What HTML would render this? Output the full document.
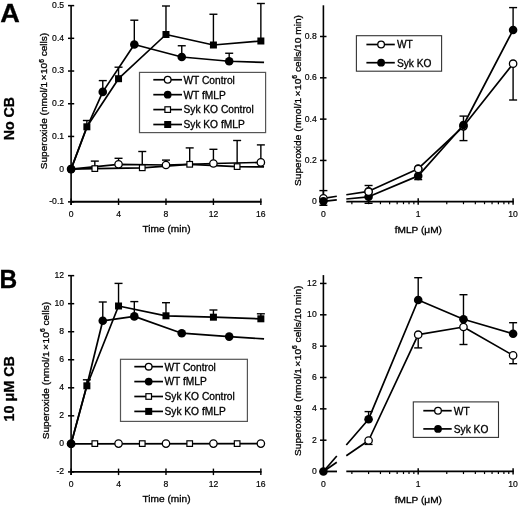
<!DOCTYPE html>
<html><head><meta charset="utf-8"><style>
html,body{margin:0;padding:0;background:#fff;}
svg{display:block;will-change:transform;}
text{font-family:"Liberation Sans",sans-serif;fill:#000;stroke:#000;stroke-width:0.3px;}
.t{stroke-width:0.2px;}
</style></head><body>
<svg width="520" height="506" viewBox="0 0 520 506">
<rect width="520" height="506" fill="#fff"/>
<line x1="71.10" y1="5.00" x2="71.10" y2="205.00" stroke="#000" stroke-width="1.6"/>
<line x1="68.00" y1="5.61" x2="74.20" y2="5.61" stroke="#000" stroke-width="1.5"/>
<text transform="translate(64.10,8.01) scale(0.88,1)" font-size="9.8" text-anchor="end" font-weight="normal"  class="t">0.5</text>
<line x1="68.00" y1="38.32" x2="74.20" y2="38.32" stroke="#000" stroke-width="1.5"/>
<text transform="translate(64.10,40.72) scale(0.88,1)" font-size="9.8" text-anchor="end" font-weight="normal"  class="t">0.4</text>
<line x1="68.00" y1="71.03" x2="74.20" y2="71.03" stroke="#000" stroke-width="1.5"/>
<text transform="translate(64.10,73.43) scale(0.88,1)" font-size="9.8" text-anchor="end" font-weight="normal"  class="t">0.3</text>
<line x1="68.00" y1="103.74" x2="74.20" y2="103.74" stroke="#000" stroke-width="1.5"/>
<text transform="translate(64.10,106.14) scale(0.88,1)" font-size="9.8" text-anchor="end" font-weight="normal"  class="t">0.2</text>
<line x1="68.00" y1="136.45" x2="74.20" y2="136.45" stroke="#000" stroke-width="1.5"/>
<text transform="translate(64.10,138.85) scale(0.88,1)" font-size="9.8" text-anchor="end" font-weight="normal"  class="t">0.1</text>
<line x1="68.00" y1="169.16" x2="74.20" y2="169.16" stroke="#000" stroke-width="1.5"/>
<text transform="translate(64.10,171.56) scale(0.88,1)" font-size="9.8" text-anchor="end" font-weight="normal"  class="t">0</text>
<line x1="68.00" y1="201.87" x2="74.20" y2="201.87" stroke="#000" stroke-width="1.5"/>
<text transform="translate(64.10,204.27) scale(0.88,1)" font-size="9.8" text-anchor="end" font-weight="normal"  class="t">-0.1</text>
<line x1="71.10" y1="201.80" x2="261.50" y2="201.80" stroke="#000" stroke-width="1.9"/>
<line x1="71.10" y1="198.50" x2="71.10" y2="205.00" stroke="#000" stroke-width="1.4"/>
<text transform="translate(71.10,216.80) scale(0.88,1)" font-size="9.8" text-anchor="middle" font-weight="normal"  class="t">0</text>
<line x1="118.54" y1="198.50" x2="118.54" y2="205.00" stroke="#000" stroke-width="1.4"/>
<text transform="translate(118.54,216.80) scale(0.88,1)" font-size="9.8" text-anchor="middle" font-weight="normal"  class="t">4</text>
<line x1="165.98" y1="198.50" x2="165.98" y2="205.00" stroke="#000" stroke-width="1.4"/>
<text transform="translate(165.98,216.80) scale(0.88,1)" font-size="9.8" text-anchor="middle" font-weight="normal"  class="t">8</text>
<line x1="213.42" y1="198.50" x2="213.42" y2="205.00" stroke="#000" stroke-width="1.4"/>
<text transform="translate(213.42,216.80) scale(0.88,1)" font-size="9.8" text-anchor="middle" font-weight="normal"  class="t">12</text>
<line x1="260.86" y1="198.50" x2="260.86" y2="205.00" stroke="#000" stroke-width="1.4"/>
<text transform="translate(260.86,216.80) scale(0.88,1)" font-size="9.8" text-anchor="middle" font-weight="normal"  class="t">16</text>
<text transform="translate(166.50,232.00) scale(1.09,1)" font-size="9.3" text-anchor="middle" font-weight="normal" >Time (min)</text>
<text transform="translate(47.4,101.0) rotate(-90)" x="0" y="0" font-size="9.9" text-anchor="middle" textLength="136.5" lengthAdjust="spacingAndGlyphs">Superoxide (nmol/1<tspan dx="1.3">×</tspan><tspan dx="0.6">10</tspan><tspan font-size="6.5" dy="-3.5">6</tspan><tspan dy="3.5"> cells)</tspan></text>
<polyline points="71.10,169.10 94.82,168.60 142.26,167.80 189.70,164.30 237.14,166.60 264.06,166.90" fill="none" stroke="#000" stroke-width="1.7" stroke-linejoin="round"/>
<line x1="94.82" y1="168.60" x2="94.82" y2="161.10" stroke="#000" stroke-width="1.4"/>
<line x1="90.82" y1="161.10" x2="98.82" y2="161.10" stroke="#000" stroke-width="1.4"/>
<line x1="142.26" y1="167.80" x2="142.26" y2="151.50" stroke="#000" stroke-width="1.4"/>
<line x1="138.26" y1="151.50" x2="146.26" y2="151.50" stroke="#000" stroke-width="1.4"/>
<line x1="189.70" y1="164.30" x2="189.70" y2="147.90" stroke="#000" stroke-width="1.4"/>
<line x1="185.70" y1="147.90" x2="193.70" y2="147.90" stroke="#000" stroke-width="1.4"/>
<line x1="237.14" y1="166.60" x2="237.14" y2="140.50" stroke="#000" stroke-width="1.4"/>
<line x1="233.14" y1="140.50" x2="241.14" y2="140.50" stroke="#000" stroke-width="1.4"/>
<polyline points="71.10,169.10 118.54,164.30 165.98,165.00 213.42,163.50 260.86,162.40" fill="none" stroke="#000" stroke-width="1.7" stroke-linejoin="round"/>
<line x1="118.54" y1="164.30" x2="118.54" y2="158.30" stroke="#000" stroke-width="1.4"/>
<line x1="114.54" y1="158.30" x2="122.54" y2="158.30" stroke="#000" stroke-width="1.4"/>
<line x1="165.98" y1="165.00" x2="165.98" y2="160.10" stroke="#000" stroke-width="1.4"/>
<line x1="161.98" y1="160.10" x2="169.98" y2="160.10" stroke="#000" stroke-width="1.4"/>
<line x1="213.42" y1="163.50" x2="213.42" y2="149.30" stroke="#000" stroke-width="1.4"/>
<line x1="209.42" y1="149.30" x2="217.42" y2="149.30" stroke="#000" stroke-width="1.4"/>
<line x1="260.86" y1="162.40" x2="260.86" y2="144.90" stroke="#000" stroke-width="1.4"/>
<line x1="256.86" y1="144.90" x2="264.86" y2="144.90" stroke="#000" stroke-width="1.4"/>
<rect x="92.02" y="165.80" width="5.60" height="5.60" fill="#fff" stroke="#000" stroke-width="1.2"/>
<rect x="139.46" y="165.00" width="5.60" height="5.60" fill="#fff" stroke="#000" stroke-width="1.2"/>
<rect x="186.90" y="161.50" width="5.60" height="5.60" fill="#fff" stroke="#000" stroke-width="1.2"/>
<rect x="234.34" y="163.80" width="5.60" height="5.60" fill="#fff" stroke="#000" stroke-width="1.2"/>
<circle cx="118.54" cy="164.30" r="3.70" fill="#fff" stroke="#000" stroke-width="1.3"/>
<circle cx="165.98" cy="165.00" r="3.70" fill="#fff" stroke="#000" stroke-width="1.3"/>
<circle cx="213.42" cy="163.50" r="3.70" fill="#fff" stroke="#000" stroke-width="1.3"/>
<circle cx="260.86" cy="162.40" r="3.70" fill="#fff" stroke="#000" stroke-width="1.3"/>
<polyline points="71.10,169.10 86.87,127.50 102.77,91.90 134.31,44.50 181.75,57.00 229.19,61.25 264.06,62.40" fill="none" stroke="#000" stroke-width="1.7" stroke-linejoin="round"/>
<line x1="102.77" y1="91.90" x2="102.77" y2="80.60" stroke="#000" stroke-width="1.4"/>
<line x1="98.77" y1="80.60" x2="106.77" y2="80.60" stroke="#000" stroke-width="1.4"/>
<line x1="134.31" y1="44.50" x2="134.31" y2="20.20" stroke="#000" stroke-width="1.4"/>
<line x1="130.31" y1="20.20" x2="138.31" y2="20.20" stroke="#000" stroke-width="1.4"/>
<line x1="181.75" y1="57.00" x2="181.75" y2="45.75" stroke="#000" stroke-width="1.4"/>
<line x1="177.75" y1="45.75" x2="185.75" y2="45.75" stroke="#000" stroke-width="1.4"/>
<line x1="229.19" y1="61.25" x2="229.19" y2="53.25" stroke="#000" stroke-width="1.4"/>
<line x1="225.19" y1="53.25" x2="233.19" y2="53.25" stroke="#000" stroke-width="1.4"/>
<polyline points="71.10,169.10 86.87,126.80 118.54,78.70 165.98,34.50 213.42,45.00 260.86,41.00" fill="none" stroke="#000" stroke-width="1.7" stroke-linejoin="round"/>
<line x1="86.87" y1="126.80" x2="86.87" y2="120.50" stroke="#000" stroke-width="1.4"/>
<line x1="82.87" y1="120.50" x2="90.87" y2="120.50" stroke="#000" stroke-width="1.4"/>
<line x1="118.54" y1="78.70" x2="118.54" y2="67.20" stroke="#000" stroke-width="1.4"/>
<line x1="114.54" y1="67.20" x2="122.54" y2="67.20" stroke="#000" stroke-width="1.4"/>
<line x1="165.98" y1="34.50" x2="165.98" y2="6.00" stroke="#000" stroke-width="1.4"/>
<line x1="161.98" y1="6.00" x2="169.98" y2="6.00" stroke="#000" stroke-width="1.4"/>
<line x1="213.42" y1="45.00" x2="213.42" y2="14.25" stroke="#000" stroke-width="1.4"/>
<line x1="209.42" y1="14.25" x2="217.42" y2="14.25" stroke="#000" stroke-width="1.4"/>
<line x1="260.86" y1="41.00" x2="260.86" y2="3.50" stroke="#000" stroke-width="1.4"/>
<line x1="256.86" y1="3.50" x2="264.86" y2="3.50" stroke="#000" stroke-width="1.4"/>
<circle cx="71.10" cy="169.10" r="4.30" fill="#000"/>
<circle cx="102.77" cy="91.90" r="4.30" fill="#000"/>
<circle cx="134.31" cy="44.50" r="4.30" fill="#000"/>
<circle cx="181.75" cy="57.00" r="4.30" fill="#000"/>
<circle cx="229.19" cy="61.25" r="4.30" fill="#000"/>
<rect x="83.37" y="123.30" width="7.00" height="7.00" fill="#000"/>
<rect x="115.04" y="75.20" width="7.00" height="7.00" fill="#000"/>
<rect x="162.48" y="31.00" width="7.00" height="7.00" fill="#000"/>
<rect x="209.92" y="41.50" width="7.00" height="7.00" fill="#000"/>
<rect x="257.36" y="37.50" width="7.00" height="7.00" fill="#000"/>
<circle cx="71.10" cy="169.00" r="4.30" fill="#000"/>
<rect x="139.5" y="72.4" width="126.1" height="60.2" fill="#fff" stroke="#555" stroke-width="1.2"/>
<line x1="153.30" y1="79.75" x2="182.00" y2="79.75" stroke="#000" stroke-width="1.7"/>
<circle cx="167.70" cy="79.75" r="3.33" fill="#fff" stroke="#000" stroke-width="1.3"/>
<text transform="translate(183.50,83.65) scale(1.02,1)" font-size="10.0" text-anchor="start" font-weight="normal" >WT Control</text>
<line x1="153.30" y1="94.67" x2="182.00" y2="94.67" stroke="#000" stroke-width="1.7"/>
<circle cx="167.70" cy="94.67" r="3.87" fill="#000"/>
<text transform="translate(183.50,98.57) scale(1.02,1)" font-size="10.0" text-anchor="start" font-weight="normal" >WT fMLP</text>
<line x1="153.30" y1="109.59" x2="182.00" y2="109.59" stroke="#000" stroke-width="1.7"/>
<rect x="164.90" y="106.79" width="5.60" height="5.60" fill="#fff" stroke="#000" stroke-width="1.2"/>
<text transform="translate(183.50,113.49) scale(1.02,1)" font-size="10.0" text-anchor="start" font-weight="normal" >Syk KO Control</text>
<line x1="153.30" y1="124.51" x2="182.00" y2="124.51" stroke="#000" stroke-width="1.7"/>
<rect x="164.20" y="121.01" width="7.00" height="7.00" fill="#000"/>
<text transform="translate(183.50,128.41) scale(1.02,1)" font-size="10.0" text-anchor="start" font-weight="normal" >Syk KO fMLP</text>
<line x1="71.10" y1="275.00" x2="71.10" y2="475.10" stroke="#000" stroke-width="1.6"/>
<line x1="68.00" y1="275.64" x2="74.20" y2="275.64" stroke="#000" stroke-width="1.5"/>
<text transform="translate(64.10,278.04) scale(0.88,1)" font-size="9.8" text-anchor="end" font-weight="normal"  class="t">12</text>
<line x1="68.00" y1="303.68" x2="74.20" y2="303.68" stroke="#000" stroke-width="1.5"/>
<text transform="translate(64.10,306.08) scale(0.88,1)" font-size="9.8" text-anchor="end" font-weight="normal"  class="t">10</text>
<line x1="68.00" y1="331.72" x2="74.20" y2="331.72" stroke="#000" stroke-width="1.5"/>
<text transform="translate(64.10,334.12) scale(0.88,1)" font-size="9.8" text-anchor="end" font-weight="normal"  class="t">8</text>
<line x1="68.00" y1="359.75" x2="74.20" y2="359.75" stroke="#000" stroke-width="1.5"/>
<text transform="translate(64.10,362.15) scale(0.88,1)" font-size="9.8" text-anchor="end" font-weight="normal"  class="t">6</text>
<line x1="68.00" y1="387.79" x2="74.20" y2="387.79" stroke="#000" stroke-width="1.5"/>
<text transform="translate(64.10,390.19) scale(0.88,1)" font-size="9.8" text-anchor="end" font-weight="normal"  class="t">4</text>
<line x1="68.00" y1="415.82" x2="74.20" y2="415.82" stroke="#000" stroke-width="1.5"/>
<text transform="translate(64.10,418.22) scale(0.88,1)" font-size="9.8" text-anchor="end" font-weight="normal"  class="t">2</text>
<line x1="68.00" y1="443.86" x2="74.20" y2="443.86" stroke="#000" stroke-width="1.5"/>
<text transform="translate(64.10,446.26) scale(0.88,1)" font-size="9.8" text-anchor="end" font-weight="normal"  class="t">0</text>
<line x1="68.00" y1="471.90" x2="74.20" y2="471.90" stroke="#000" stroke-width="1.5"/>
<text transform="translate(64.10,474.30) scale(0.88,1)" font-size="9.8" text-anchor="end" font-weight="normal"  class="t">-2</text>
<line x1="71.10" y1="471.90" x2="261.50" y2="471.90" stroke="#000" stroke-width="1.9"/>
<line x1="71.10" y1="468.60" x2="71.10" y2="475.10" stroke="#000" stroke-width="1.4"/>
<text transform="translate(71.10,486.80) scale(0.88,1)" font-size="9.8" text-anchor="middle" font-weight="normal"  class="t">0</text>
<line x1="118.54" y1="468.60" x2="118.54" y2="475.10" stroke="#000" stroke-width="1.4"/>
<text transform="translate(118.54,486.80) scale(0.88,1)" font-size="9.8" text-anchor="middle" font-weight="normal"  class="t">4</text>
<line x1="165.98" y1="468.60" x2="165.98" y2="475.10" stroke="#000" stroke-width="1.4"/>
<text transform="translate(165.98,486.80) scale(0.88,1)" font-size="9.8" text-anchor="middle" font-weight="normal"  class="t">8</text>
<line x1="213.42" y1="468.60" x2="213.42" y2="475.10" stroke="#000" stroke-width="1.4"/>
<text transform="translate(213.42,486.80) scale(0.88,1)" font-size="9.8" text-anchor="middle" font-weight="normal"  class="t">12</text>
<line x1="260.86" y1="468.60" x2="260.86" y2="475.10" stroke="#000" stroke-width="1.4"/>
<text transform="translate(260.86,486.80) scale(0.88,1)" font-size="9.8" text-anchor="middle" font-weight="normal"  class="t">16</text>
<text transform="translate(166.50,502.00) scale(1.09,1)" font-size="9.3" text-anchor="middle" font-weight="normal" >Time (min)</text>
<text transform="translate(48.9,370.6) rotate(-90)" x="0" y="0" font-size="9.9" text-anchor="middle" textLength="137.5" lengthAdjust="spacingAndGlyphs">Superoxide (nmol/1<tspan dx="1.3">×</tspan><tspan dx="0.6">10</tspan><tspan font-size="6.5" dy="-3.5">6</tspan><tspan dy="3.5"> cells)</tspan></text>
<polyline points="71.10,443.80 264.50,443.70" fill="none" stroke="#000" stroke-width="1.7" stroke-linejoin="round"/>
<rect x="92.02" y="440.80" width="5.60" height="5.60" fill="#fff" stroke="#000" stroke-width="1.2"/>
<rect x="139.46" y="440.80" width="5.60" height="5.60" fill="#fff" stroke="#000" stroke-width="1.2"/>
<rect x="186.90" y="440.80" width="5.60" height="5.60" fill="#fff" stroke="#000" stroke-width="1.2"/>
<rect x="234.34" y="440.80" width="5.60" height="5.60" fill="#fff" stroke="#000" stroke-width="1.2"/>
<circle cx="118.54" cy="443.60" r="3.70" fill="#fff" stroke="#000" stroke-width="1.3"/>
<circle cx="165.98" cy="443.60" r="3.70" fill="#fff" stroke="#000" stroke-width="1.3"/>
<circle cx="213.42" cy="443.60" r="3.70" fill="#fff" stroke="#000" stroke-width="1.3"/>
<circle cx="260.86" cy="443.60" r="3.70" fill="#fff" stroke="#000" stroke-width="1.3"/>
<polyline points="71.10,443.80 86.87,385.50 102.77,320.80 134.31,316.40 181.75,333.20 229.19,336.60 264.06,338.90" fill="none" stroke="#000" stroke-width="1.7" stroke-linejoin="round"/>
<line x1="102.77" y1="320.80" x2="102.77" y2="302.00" stroke="#000" stroke-width="1.4"/>
<line x1="98.77" y1="302.00" x2="106.77" y2="302.00" stroke="#000" stroke-width="1.4"/>
<line x1="134.31" y1="316.40" x2="134.31" y2="301.60" stroke="#000" stroke-width="1.4"/>
<line x1="130.31" y1="301.60" x2="138.31" y2="301.60" stroke="#000" stroke-width="1.4"/>
<polyline points="71.10,443.80 86.87,385.80 118.54,306.00 165.98,315.80 213.42,317.20 260.86,318.80" fill="none" stroke="#000" stroke-width="1.7" stroke-linejoin="round"/>
<line x1="86.87" y1="385.80" x2="86.87" y2="379.80" stroke="#000" stroke-width="1.4"/>
<line x1="82.87" y1="379.80" x2="90.87" y2="379.80" stroke="#000" stroke-width="1.4"/>
<line x1="118.54" y1="306.00" x2="118.54" y2="283.40" stroke="#000" stroke-width="1.4"/>
<line x1="114.54" y1="283.40" x2="122.54" y2="283.40" stroke="#000" stroke-width="1.4"/>
<line x1="165.98" y1="315.80" x2="165.98" y2="302.70" stroke="#000" stroke-width="1.4"/>
<line x1="161.98" y1="302.70" x2="169.98" y2="302.70" stroke="#000" stroke-width="1.4"/>
<line x1="213.42" y1="317.20" x2="213.42" y2="310.00" stroke="#000" stroke-width="1.4"/>
<line x1="209.42" y1="310.00" x2="217.42" y2="310.00" stroke="#000" stroke-width="1.4"/>
<line x1="260.86" y1="318.80" x2="260.86" y2="313.80" stroke="#000" stroke-width="1.4"/>
<line x1="256.86" y1="313.80" x2="264.86" y2="313.80" stroke="#000" stroke-width="1.4"/>
<circle cx="71.10" cy="443.80" r="4.30" fill="#000"/>
<circle cx="102.77" cy="320.80" r="4.30" fill="#000"/>
<circle cx="134.31" cy="316.40" r="4.30" fill="#000"/>
<circle cx="181.75" cy="333.20" r="4.30" fill="#000"/>
<circle cx="229.19" cy="336.60" r="4.30" fill="#000"/>
<rect x="83.37" y="382.30" width="7.00" height="7.00" fill="#000"/>
<rect x="115.04" y="302.50" width="7.00" height="7.00" fill="#000"/>
<rect x="162.48" y="312.30" width="7.00" height="7.00" fill="#000"/>
<rect x="209.92" y="313.70" width="7.00" height="7.00" fill="#000"/>
<rect x="257.36" y="315.30" width="7.00" height="7.00" fill="#000"/>
<circle cx="71.10" cy="443.80" r="4.30" fill="#000"/>
<rect x="120.5" y="359.3" width="126.9" height="62.1" fill="#fff" stroke="#555" stroke-width="1.2"/>
<line x1="134.30" y1="366.65" x2="163.00" y2="366.65" stroke="#000" stroke-width="1.7"/>
<circle cx="148.70" cy="366.65" r="3.33" fill="#fff" stroke="#000" stroke-width="1.3"/>
<text transform="translate(164.50,370.55) scale(1.02,1)" font-size="10.0" text-anchor="start" font-weight="normal" >WT Control</text>
<line x1="134.30" y1="381.57" x2="163.00" y2="381.57" stroke="#000" stroke-width="1.7"/>
<circle cx="148.70" cy="381.57" r="3.87" fill="#000"/>
<text transform="translate(164.50,385.47) scale(1.02,1)" font-size="10.0" text-anchor="start" font-weight="normal" >WT fMLP</text>
<line x1="134.30" y1="396.49" x2="163.00" y2="396.49" stroke="#000" stroke-width="1.7"/>
<rect x="145.90" y="393.69" width="5.60" height="5.60" fill="#fff" stroke="#000" stroke-width="1.2"/>
<text transform="translate(164.50,400.39) scale(1.02,1)" font-size="10.0" text-anchor="start" font-weight="normal" >Syk KO Control</text>
<line x1="134.30" y1="411.41" x2="163.00" y2="411.41" stroke="#000" stroke-width="1.7"/>
<rect x="145.20" y="407.91" width="7.00" height="7.00" fill="#000"/>
<text transform="translate(164.50,415.31) scale(1.02,1)" font-size="10.0" text-anchor="start" font-weight="normal" >Syk KO fMLP</text>
<line x1="323.40" y1="5.30" x2="323.40" y2="204.80" stroke="#000" stroke-width="1.6"/>
<line x1="320.00" y1="36.49" x2="326.50" y2="36.49" stroke="#000" stroke-width="1.5"/>
<text transform="translate(316.70,38.89) scale(0.88,1)" font-size="9.8" text-anchor="end" font-weight="normal"  class="t">0.8</text>
<line x1="320.00" y1="77.81" x2="326.50" y2="77.81" stroke="#000" stroke-width="1.5"/>
<text transform="translate(316.70,80.21) scale(0.88,1)" font-size="9.8" text-anchor="end" font-weight="normal"  class="t">0.6</text>
<line x1="320.00" y1="119.13" x2="326.50" y2="119.13" stroke="#000" stroke-width="1.5"/>
<text transform="translate(316.70,121.53) scale(0.88,1)" font-size="9.8" text-anchor="end" font-weight="normal"  class="t">0.4</text>
<line x1="320.00" y1="160.45" x2="326.50" y2="160.45" stroke="#000" stroke-width="1.5"/>
<text transform="translate(316.70,162.85) scale(0.88,1)" font-size="9.8" text-anchor="end" font-weight="normal"  class="t">0.2</text>
<line x1="320.00" y1="201.77" x2="326.50" y2="201.77" stroke="#000" stroke-width="1.5"/>
<text transform="translate(316.70,204.17) scale(0.88,1)" font-size="9.8" text-anchor="end" font-weight="normal"  class="t">0</text>
<line x1="346.30" y1="201.60" x2="513.70" y2="201.60" stroke="#000" stroke-width="1.8"/>
<line x1="418.20" y1="198.30" x2="418.20" y2="204.70" stroke="#000" stroke-width="1.5"/>
<line x1="513.10" y1="198.30" x2="513.10" y2="204.70" stroke="#000" stroke-width="1.5"/>
<line x1="351.87" y1="201.60" x2="351.87" y2="204.20" stroke="#000" stroke-width="1.2"/>
<line x1="368.58" y1="201.60" x2="368.58" y2="204.20" stroke="#000" stroke-width="1.2"/>
<line x1="380.44" y1="201.60" x2="380.44" y2="204.20" stroke="#000" stroke-width="1.2"/>
<line x1="389.63" y1="201.60" x2="389.63" y2="204.20" stroke="#000" stroke-width="1.2"/>
<line x1="397.15" y1="201.60" x2="397.15" y2="204.20" stroke="#000" stroke-width="1.2"/>
<line x1="403.50" y1="201.60" x2="403.50" y2="204.20" stroke="#000" stroke-width="1.2"/>
<line x1="409.00" y1="201.60" x2="409.00" y2="204.20" stroke="#000" stroke-width="1.2"/>
<line x1="413.86" y1="201.60" x2="413.86" y2="204.20" stroke="#000" stroke-width="1.2"/>
<line x1="446.77" y1="201.60" x2="446.77" y2="204.20" stroke="#000" stroke-width="1.2"/>
<line x1="463.48" y1="201.60" x2="463.48" y2="204.20" stroke="#000" stroke-width="1.2"/>
<line x1="475.34" y1="201.60" x2="475.34" y2="204.20" stroke="#000" stroke-width="1.2"/>
<line x1="484.53" y1="201.60" x2="484.53" y2="204.20" stroke="#000" stroke-width="1.2"/>
<line x1="492.05" y1="201.60" x2="492.05" y2="204.20" stroke="#000" stroke-width="1.2"/>
<line x1="498.40" y1="201.60" x2="498.40" y2="204.20" stroke="#000" stroke-width="1.2"/>
<line x1="503.90" y1="201.60" x2="503.90" y2="204.20" stroke="#000" stroke-width="1.2"/>
<line x1="508.76" y1="201.60" x2="508.76" y2="204.20" stroke="#000" stroke-width="1.2"/>
<text transform="translate(323.40,216.80) scale(0.88,1)" font-size="9.8" text-anchor="middle" font-weight="normal"  class="t">0</text>
<text transform="translate(418.20,216.80) scale(0.88,1)" font-size="9.8" text-anchor="middle" font-weight="normal"  class="t">1</text>
<text transform="translate(513.10,216.80) scale(0.88,1)" font-size="9.8" text-anchor="middle" font-weight="normal"  class="t">10</text>
<text transform="translate(418.30,232.70) scale(1.09,1)" font-size="9.3" text-anchor="middle" font-weight="normal" >fMLP (μM)</text>
<text transform="translate(300.9,100.5) rotate(-90)" x="0" y="0" font-size="9.9" text-anchor="middle" textLength="171.0" lengthAdjust="spacingAndGlyphs">Superoxide (nmol/1<tspan dx="1.3">×</tspan><tspan dx="0.6">10</tspan><tspan font-size="6.5" dy="-3.5">6</tspan><tspan dy="3.5"> cells/10 min)</tspan></text>
<polyline points="323.40,198.30 336.80,196.22" fill="none" stroke="#000" stroke-width="1.7" stroke-linejoin="round"/>
<polyline points="346.30,194.75 368.58,191.30 418.20,168.70 463.48,126.30 513.10,63.70" fill="none" stroke="#000" stroke-width="1.7" stroke-linejoin="round"/>
<line x1="323.40" y1="198.30" x2="323.40" y2="190.60" stroke="#000" stroke-width="1.4"/>
<line x1="319.40" y1="190.60" x2="327.40" y2="190.60" stroke="#000" stroke-width="1.4"/>
<line x1="368.58" y1="191.30" x2="368.58" y2="185.50" stroke="#000" stroke-width="1.4"/>
<line x1="364.58" y1="185.50" x2="372.58" y2="185.50" stroke="#000" stroke-width="1.4"/>
<line x1="463.48" y1="126.30" x2="463.48" y2="140.60" stroke="#000" stroke-width="1.4"/>
<line x1="459.48" y1="140.60" x2="467.48" y2="140.60" stroke="#000" stroke-width="1.4"/>
<line x1="513.10" y1="63.70" x2="513.10" y2="100.00" stroke="#000" stroke-width="1.4"/>
<line x1="509.10" y1="100.00" x2="517.10" y2="100.00" stroke="#000" stroke-width="1.4"/>
<polyline points="323.40,201.30 336.80,199.97" fill="none" stroke="#000" stroke-width="1.7" stroke-linejoin="round"/>
<polyline points="346.30,199.02 368.58,196.80 418.20,175.90 463.48,125.00 513.10,30.00" fill="none" stroke="#000" stroke-width="1.7" stroke-linejoin="round"/>
<line x1="323.40" y1="201.30" x2="323.40" y2="205.30" stroke="#000" stroke-width="1.4"/>
<line x1="319.40" y1="205.30" x2="327.40" y2="205.30" stroke="#000" stroke-width="1.4"/>
<line x1="368.58" y1="196.80" x2="368.58" y2="203.30" stroke="#000" stroke-width="1.4"/>
<line x1="364.58" y1="203.30" x2="372.58" y2="203.30" stroke="#000" stroke-width="1.4"/>
<line x1="418.20" y1="175.90" x2="418.20" y2="179.60" stroke="#000" stroke-width="1.4"/>
<line x1="414.20" y1="179.60" x2="422.20" y2="179.60" stroke="#000" stroke-width="1.4"/>
<line x1="463.48" y1="125.00" x2="463.48" y2="116.10" stroke="#000" stroke-width="1.4"/>
<line x1="459.48" y1="116.10" x2="467.48" y2="116.10" stroke="#000" stroke-width="1.4"/>
<line x1="513.10" y1="30.00" x2="513.10" y2="7.60" stroke="#000" stroke-width="1.4"/>
<line x1="509.10" y1="7.60" x2="517.10" y2="7.60" stroke="#000" stroke-width="1.4"/>
<circle cx="323.40" cy="198.30" r="3.70" fill="#fff" stroke="#000" stroke-width="1.3"/>
<circle cx="368.58" cy="191.30" r="3.70" fill="#fff" stroke="#000" stroke-width="1.3"/>
<circle cx="418.20" cy="168.70" r="3.70" fill="#fff" stroke="#000" stroke-width="1.3"/>
<circle cx="463.48" cy="126.30" r="3.70" fill="#fff" stroke="#000" stroke-width="1.3"/>
<circle cx="513.10" cy="63.70" r="3.70" fill="#fff" stroke="#000" stroke-width="1.3"/>
<circle cx="323.40" cy="201.30" r="4.30" fill="#000"/>
<circle cx="368.58" cy="196.80" r="4.30" fill="#000"/>
<circle cx="418.20" cy="175.90" r="4.30" fill="#000"/>
<circle cx="463.48" cy="125.00" r="4.30" fill="#000"/>
<circle cx="513.10" cy="30.00" r="4.30" fill="#000"/>
<circle cx="368.58" cy="191.80" r="3.70" fill="#fff" stroke="#000" stroke-width="1.3"/>
<circle cx="418.20" cy="169.00" r="3.70" fill="#fff" stroke="#000" stroke-width="1.3"/>
<rect x="356.4" y="35.7" width="85.2" height="35.5" fill="#fff" stroke="#333" stroke-width="1.1"/>
<line x1="366.40" y1="44.50" x2="394.80" y2="44.50" stroke="#000" stroke-width="1.7"/>
<circle cx="381.10" cy="44.50" r="3.33" fill="#fff" stroke="#000" stroke-width="1.3"/>
<text transform="translate(396.90,48.30) scale(1.02,1)" font-size="10.0" text-anchor="start" font-weight="normal" >WT</text>
<line x1="366.40" y1="62.70" x2="394.80" y2="62.70" stroke="#000" stroke-width="1.7"/>
<circle cx="381.10" cy="62.70" r="3.87" fill="#000"/>
<text transform="translate(396.90,66.50) scale(1.02,1)" font-size="10.0" text-anchor="start" font-weight="normal" >Syk KO</text>
<line x1="323.40" y1="275.10" x2="323.40" y2="474.65" stroke="#000" stroke-width="1.6"/>
<line x1="320.00" y1="283.45" x2="326.50" y2="283.45" stroke="#000" stroke-width="1.5"/>
<text transform="translate(316.70,285.85) scale(0.88,1)" font-size="9.8" text-anchor="end" font-weight="normal"  class="t">12</text>
<line x1="320.00" y1="314.80" x2="326.50" y2="314.80" stroke="#000" stroke-width="1.5"/>
<text transform="translate(316.70,317.20) scale(0.88,1)" font-size="9.8" text-anchor="end" font-weight="normal"  class="t">10</text>
<line x1="320.00" y1="346.15" x2="326.50" y2="346.15" stroke="#000" stroke-width="1.5"/>
<text transform="translate(316.70,348.55) scale(0.88,1)" font-size="9.8" text-anchor="end" font-weight="normal"  class="t">8</text>
<line x1="320.00" y1="377.50" x2="326.50" y2="377.50" stroke="#000" stroke-width="1.5"/>
<text transform="translate(316.70,379.90) scale(0.88,1)" font-size="9.8" text-anchor="end" font-weight="normal"  class="t">6</text>
<line x1="320.00" y1="408.85" x2="326.50" y2="408.85" stroke="#000" stroke-width="1.5"/>
<text transform="translate(316.70,411.25) scale(0.88,1)" font-size="9.8" text-anchor="end" font-weight="normal"  class="t">4</text>
<line x1="320.00" y1="440.20" x2="326.50" y2="440.20" stroke="#000" stroke-width="1.5"/>
<text transform="translate(316.70,442.60) scale(0.88,1)" font-size="9.8" text-anchor="end" font-weight="normal"  class="t">2</text>
<line x1="320.00" y1="471.55" x2="326.50" y2="471.55" stroke="#000" stroke-width="1.5"/>
<text transform="translate(316.70,473.95) scale(0.88,1)" font-size="9.8" text-anchor="end" font-weight="normal"  class="t">0</text>
<line x1="323.40" y1="471.45" x2="337.00" y2="471.45" stroke="#000" stroke-width="1.8"/>
<line x1="346.30" y1="471.45" x2="513.70" y2="471.45" stroke="#000" stroke-width="1.8"/>
<line x1="418.20" y1="468.15" x2="418.20" y2="474.55" stroke="#000" stroke-width="1.5"/>
<line x1="513.10" y1="468.15" x2="513.10" y2="474.55" stroke="#000" stroke-width="1.5"/>
<line x1="351.87" y1="471.45" x2="351.87" y2="474.05" stroke="#000" stroke-width="1.2"/>
<line x1="368.58" y1="471.45" x2="368.58" y2="474.05" stroke="#000" stroke-width="1.2"/>
<line x1="380.44" y1="471.45" x2="380.44" y2="474.05" stroke="#000" stroke-width="1.2"/>
<line x1="389.63" y1="471.45" x2="389.63" y2="474.05" stroke="#000" stroke-width="1.2"/>
<line x1="397.15" y1="471.45" x2="397.15" y2="474.05" stroke="#000" stroke-width="1.2"/>
<line x1="403.50" y1="471.45" x2="403.50" y2="474.05" stroke="#000" stroke-width="1.2"/>
<line x1="409.00" y1="471.45" x2="409.00" y2="474.05" stroke="#000" stroke-width="1.2"/>
<line x1="413.86" y1="471.45" x2="413.86" y2="474.05" stroke="#000" stroke-width="1.2"/>
<line x1="446.77" y1="471.45" x2="446.77" y2="474.05" stroke="#000" stroke-width="1.2"/>
<line x1="463.48" y1="471.45" x2="463.48" y2="474.05" stroke="#000" stroke-width="1.2"/>
<line x1="475.34" y1="471.45" x2="475.34" y2="474.05" stroke="#000" stroke-width="1.2"/>
<line x1="484.53" y1="471.45" x2="484.53" y2="474.05" stroke="#000" stroke-width="1.2"/>
<line x1="492.05" y1="471.45" x2="492.05" y2="474.05" stroke="#000" stroke-width="1.2"/>
<line x1="498.40" y1="471.45" x2="498.40" y2="474.05" stroke="#000" stroke-width="1.2"/>
<line x1="503.90" y1="471.45" x2="503.90" y2="474.05" stroke="#000" stroke-width="1.2"/>
<line x1="508.76" y1="471.45" x2="508.76" y2="474.05" stroke="#000" stroke-width="1.2"/>
<text transform="translate(323.40,486.80) scale(0.88,1)" font-size="9.8" text-anchor="middle" font-weight="normal"  class="t">0</text>
<text transform="translate(418.20,486.80) scale(0.88,1)" font-size="9.8" text-anchor="middle" font-weight="normal"  class="t">1</text>
<text transform="translate(513.10,486.80) scale(0.88,1)" font-size="9.8" text-anchor="middle" font-weight="normal"  class="t">10</text>
<text transform="translate(418.30,502.70) scale(1.09,1)" font-size="9.3" text-anchor="middle" font-weight="normal" >fMLP (μM)</text>
<text transform="translate(300.9,370.75) rotate(-90)" x="0" y="0" font-size="9.9" text-anchor="middle" textLength="170.5" lengthAdjust="spacingAndGlyphs">Superoxide (nmol/1<tspan dx="1.3">×</tspan><tspan dx="0.6">10</tspan><tspan font-size="6.5" dy="-3.5">6</tspan><tspan dy="3.5"> cells/10 min)</tspan></text>
<polyline points="323.40,471.50 336.80,462.31" fill="none" stroke="#000" stroke-width="1.7" stroke-linejoin="round"/>
<polyline points="346.30,455.79 368.58,440.50 418.20,334.70 463.48,327.00 513.10,355.40" fill="none" stroke="#000" stroke-width="1.7" stroke-linejoin="round"/>
<line x1="368.58" y1="440.50" x2="368.58" y2="444.40" stroke="#000" stroke-width="1.4"/>
<line x1="364.58" y1="444.40" x2="372.58" y2="444.40" stroke="#000" stroke-width="1.4"/>
<line x1="418.20" y1="334.70" x2="418.20" y2="347.90" stroke="#000" stroke-width="1.4"/>
<line x1="414.20" y1="347.90" x2="422.20" y2="347.90" stroke="#000" stroke-width="1.4"/>
<line x1="463.48" y1="327.00" x2="463.48" y2="344.50" stroke="#000" stroke-width="1.4"/>
<line x1="459.48" y1="344.50" x2="467.48" y2="344.50" stroke="#000" stroke-width="1.4"/>
<line x1="513.10" y1="355.40" x2="513.10" y2="363.70" stroke="#000" stroke-width="1.4"/>
<line x1="509.10" y1="363.70" x2="517.10" y2="363.70" stroke="#000" stroke-width="1.4"/>
<polyline points="323.40,471.50 336.80,455.99" fill="none" stroke="#000" stroke-width="1.7" stroke-linejoin="round"/>
<polyline points="346.30,444.99 368.58,419.20 418.20,300.00 463.48,319.20 513.10,333.70" fill="none" stroke="#000" stroke-width="1.7" stroke-linejoin="round"/>
<line x1="368.58" y1="419.20" x2="368.58" y2="411.60" stroke="#000" stroke-width="1.4"/>
<line x1="364.58" y1="411.60" x2="372.58" y2="411.60" stroke="#000" stroke-width="1.4"/>
<line x1="418.20" y1="300.00" x2="418.20" y2="277.70" stroke="#000" stroke-width="1.4"/>
<line x1="414.20" y1="277.70" x2="422.20" y2="277.70" stroke="#000" stroke-width="1.4"/>
<line x1="463.48" y1="319.20" x2="463.48" y2="294.70" stroke="#000" stroke-width="1.4"/>
<line x1="459.48" y1="294.70" x2="467.48" y2="294.70" stroke="#000" stroke-width="1.4"/>
<line x1="513.10" y1="333.70" x2="513.10" y2="322.70" stroke="#000" stroke-width="1.4"/>
<line x1="509.10" y1="322.70" x2="517.10" y2="322.70" stroke="#000" stroke-width="1.4"/>
<circle cx="368.58" cy="440.50" r="3.70" fill="#fff" stroke="#000" stroke-width="1.3"/>
<circle cx="418.20" cy="334.70" r="3.70" fill="#fff" stroke="#000" stroke-width="1.3"/>
<circle cx="463.48" cy="327.00" r="3.70" fill="#fff" stroke="#000" stroke-width="1.3"/>
<circle cx="513.10" cy="355.40" r="3.70" fill="#fff" stroke="#000" stroke-width="1.3"/>
<circle cx="323.40" cy="471.50" r="4.30" fill="#000"/>
<circle cx="368.58" cy="419.20" r="4.30" fill="#000"/>
<circle cx="418.20" cy="300.00" r="4.30" fill="#000"/>
<circle cx="463.48" cy="319.20" r="4.30" fill="#000"/>
<circle cx="513.10" cy="333.70" r="4.30" fill="#000"/>
<rect x="413.3" y="401.9" width="85.2" height="35.5" fill="#fff" stroke="#333" stroke-width="1.1"/>
<line x1="423.30" y1="410.70" x2="451.70" y2="410.70" stroke="#000" stroke-width="1.7"/>
<circle cx="438.00" cy="410.70" r="3.33" fill="#fff" stroke="#000" stroke-width="1.3"/>
<text transform="translate(453.80,414.50) scale(1.02,1)" font-size="10.0" text-anchor="start" font-weight="normal" >WT</text>
<line x1="423.30" y1="428.90" x2="451.70" y2="428.90" stroke="#000" stroke-width="1.7"/>
<circle cx="438.00" cy="428.90" r="3.87" fill="#000"/>
<text transform="translate(453.80,432.70) scale(1.02,1)" font-size="10.0" text-anchor="start" font-weight="normal" >Syk KO</text>
<text x="0.3" y="22.3" font-size="26.3" font-weight="bold" textLength="19.6" lengthAdjust="spacingAndGlyphs">A</text>
<text x="-0.5" y="287.7" font-size="26.3" font-weight="bold" textLength="17.7" lengthAdjust="spacingAndGlyphs">B</text>
<text transform="translate(14.1,118.65) rotate(-90)" font-size="14.4" font-weight="bold" text-anchor="middle" textLength="43.4" lengthAdjust="spacingAndGlyphs">No CB</text>
<text transform="translate(14.1,388.8) rotate(-90)" font-size="14.4" font-weight="bold" text-anchor="middle" textLength="65.5" lengthAdjust="spacingAndGlyphs">10 μM CB</text>
</svg></body></html>
